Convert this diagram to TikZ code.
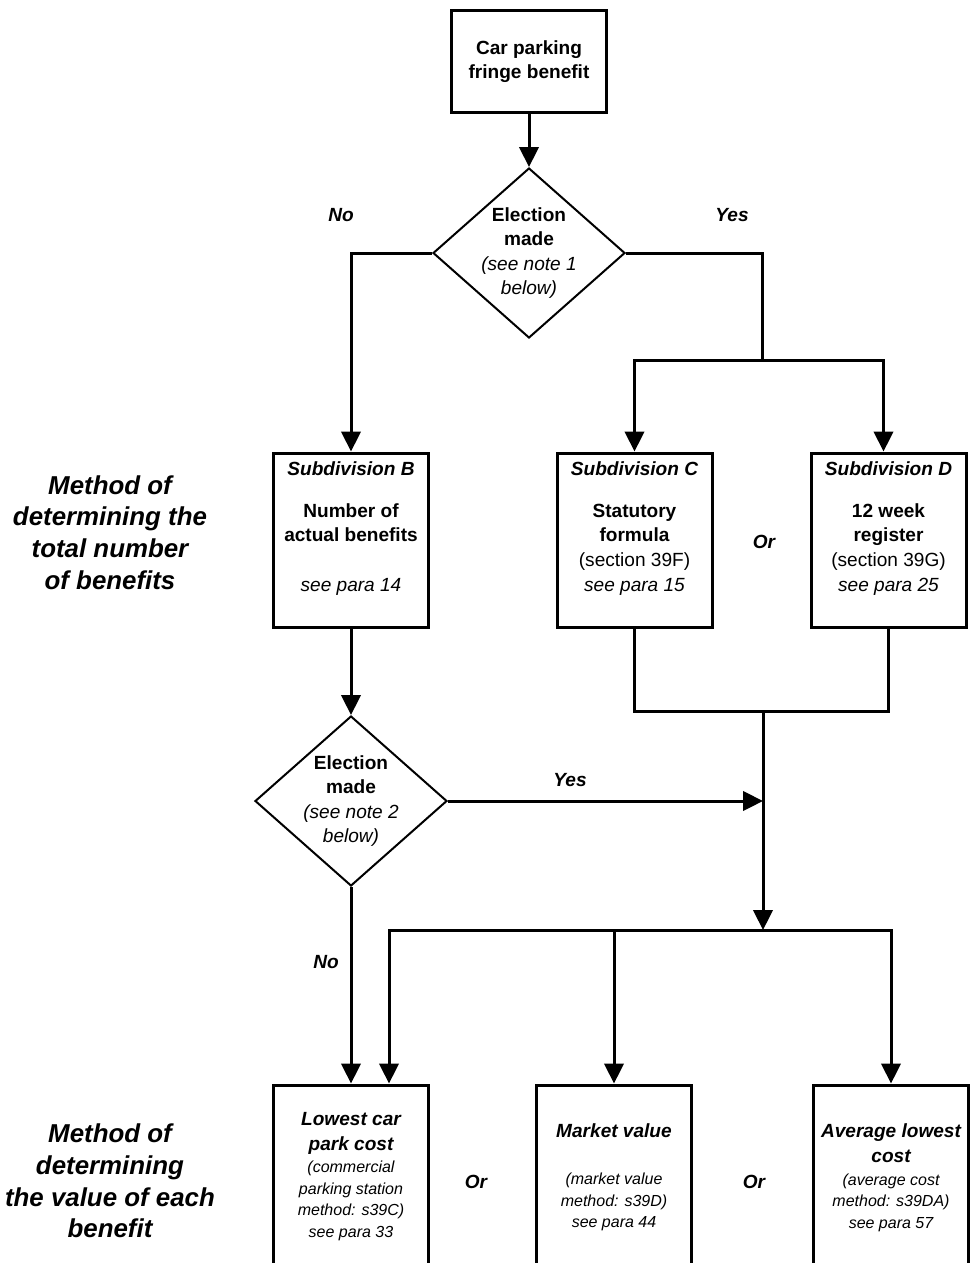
\documentclass[tikz,border=0pt]{standalone}
\usepackage{fontspec}
\setmainfont{Liberation Sans}
\usetikzlibrary{arrows.meta,shapes.geometric,positioning}
\newcommand\mainsz{\fontsize{14.3}{18.4}\selectfont}
\newcommand\smallsz{\fontsize{12}{16.2}\selectfont}
\newcommand\bigsz{\fontsize{19.4}{23.7}\selectfont}
\newcommand\bi{\bfseries\itshape}
\begin{document}
\begin{tikzpicture}[x=0.75pt,y=-0.75pt,
 box/.style={draw,line width=2.25pt,minimum width=116.25pt,minimum height=130.5pt,inner sep=0pt},
 lowbox/.style={box,minimum height=161.25pt},
 dec/.style={draw,diamond,line width=1.5pt,minimum width=144pt,minimum height=127.5pt,inner sep=0pt},
 txt/.style={align=center,inner sep=0pt,font=\mainsz},
 smalltxt/.style={align=center,inner sep=0pt,font=\smallsz},
 lab/.style={inner sep=0pt,font=\mainsz\bi},
 side/.style={align=center,inner sep=0pt,font=\bigsz\bi},
 conn/.style={line width=2.25pt},
 arr/.style={conn,-{Triangle[length=15pt,width=14.5pt]}}]
 \useasboundingbox (0,0) rectangle (970,1263);
 \clip (0,0) rectangle (970,1263);
 \node[box,minimum height=75.75pt,txt,font=\mainsz\bfseries] (top) at (529,61.5) {Car parking\\fringe benefit};
 \node[dec] (q1) at (529,253) {};
 \node[txt] (q1t) at (q1) {{\bfseries Election}\\{\bfseries made}\\{\itshape (see note 1}\\{\itshape below)}};
 \node[lab] (no1) at (341,215) {No};
 \node[lab] (yes1) at (732,215) {Yes};
 \node[box] (b) at (351,540) {};
 \node[box] (c) at (634.5,540) {};
 \node[box] (d) at (888.5,540) {};
 \node[txt,below=7.5pt of b.north] (bt) {{\bi Subdivision B}\\[13pt]{\bfseries Number of}\\{\bfseries actual benefits}\\[18.4pt]{\itshape see para 14}};
 \node[txt,below=7.5pt of c.north] (ct) {{\bi Subdivision C}\\[13pt]{\bfseries Statutory}\\{\bfseries formula}\\(section 39F)\\{\itshape see para 15}};
 \node[txt,below=7.5pt of d.north] (dt) {{\bi Subdivision D}\\[13pt]{\bfseries 12 week}\\{\bfseries register}\\(section 39G)\\{\itshape see para 25}};
 \node[lab] (or1) at (764,542) {Or};
 \node[side] (m1) at (110,532.5) {Method of\\determining the\\total number\\of benefits};
 \node[dec] (q2) at (351,801) {};
 \node[txt] (q2t) at (q2) {{\bfseries Election}\\{\bfseries made}\\{\itshape (see note 2}\\{\itshape below)}};
 \node[lab] (yes2) at (570,780) {Yes};
 \node[lab] (no2) at (326,962) {No};
 \node[lowbox] (e) at (351,1192.5) {};
 \node[lowbox] (f) at (614,1192.5) {};
 \node[lowbox] (g) at (891,1192.5) {};
 \node[smalltxt,below=21.75pt of e.north] (et) {{\mainsz\bi Lowest car}\\[2.25pt]{\mainsz\bi park cost}\\[0.5pt]{\itshape (commercial}\\{\itshape parking station}\\{\itshape method: s39C)}\\{\itshape see para 33}};
 \node[smalltxt,below=30pt of f.north] (ft) {{\mainsz\bi Market value}\\[19pt]{\itshape (market value}\\{\itshape method: s39D)}\\{\itshape see para 44}};
 \node[smalltxt,below=30pt of g.north] (gt) {{\mainsz\bi Average lowest}\\[2.25pt]{\mainsz\bi cost}\\[1pt]{\itshape (average cost}\\{\itshape method: s39DA)}\\{\itshape see para 57}};
 \node[lab] (or2) at (476,1182) {Or};
 \node[lab] (or3) at (754,1182) {Or};
 \node[side] (m2) at (110,1181) {Method of\\determining\\the value of each\\benefit};
 \coordinate (s1) at (762,360);
 \coordinate (s2) at (763,711);
 \coordinate (s3) at (763,930);
 \draw[arr] (top.south) -- (q1.north);
 \draw[arr] (q1.west) -| (b.north);
 \draw[conn] (q1.east) -| (s1);
 \draw[arr] (s1) -| (c.north);
 \draw[arr] (s1) -| ([xshift=-3.75pt]d.north);
 \draw[arr] (b.south) -- (q2.north);
 \draw[conn] (c.south) |- (s2) -| (d.south);
 \draw[arr] (s2) -- (s3);
 \draw[arr] (q2.east) -- (q2.east -| s2);
 \draw[arr] (q2.south) -- (q2.south |- e.north);
 \draw[arr] (s3) -| ([xshift=28.5pt]e.north);
 \draw[arr] (s3) -| (f.north);
 \draw[arr] (s3) -| (g.north);
\end{tikzpicture}
\end{document}
